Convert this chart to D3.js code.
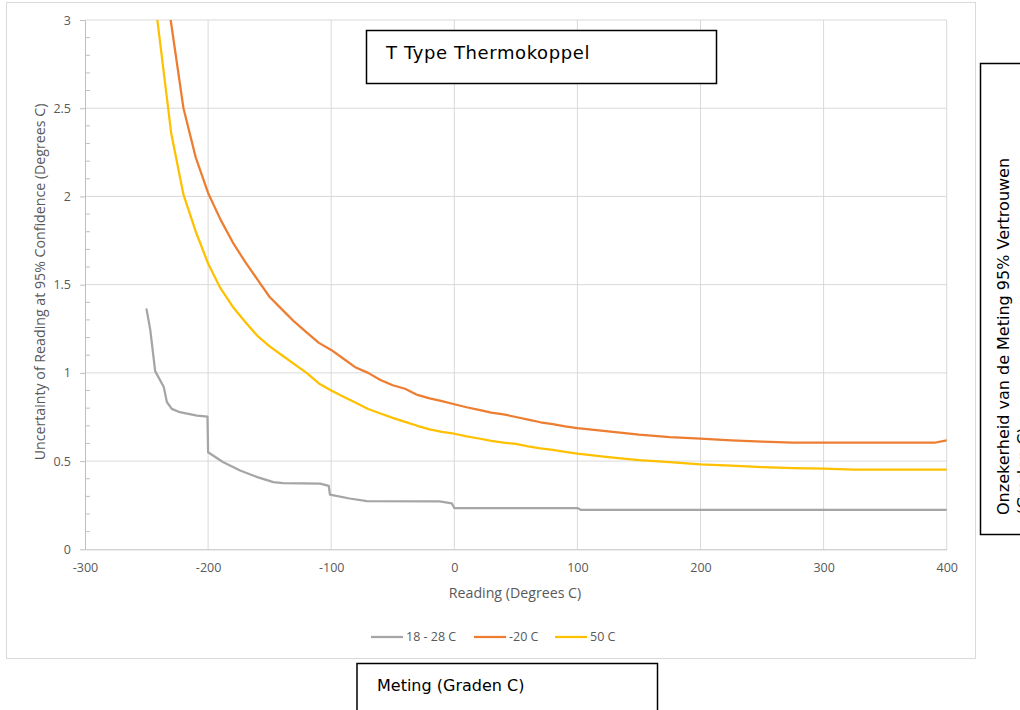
<!DOCTYPE html>
<html>
<head>
<meta charset="utf-8">
<script src="https://cdn.jsdelivr.net/npm/d3@7"></script>
<style>
body { margin: 0; background: #fff; }
.axis text { font-family: 'Open Sans', sans-serif; font-size: 12.5px; fill: #595959; }
.axis line, .axis path { stroke: #bfbfbf; }
.axis-title { font-family: 'Open Sans', sans-serif; font-size: 14.2px; fill: #595959; }
.legend-text { font-family: 'Open Sans', sans-serif; font-size: 12.5px; fill: #595959; }
.box-text { font-family: 'DejaVu Sans', Verdana, sans-serif; fill: #000; }
</style>
</head>
<body>
<div id="chart"></div>
<script>
// data
var readings = [-250, -240, -230, -220, -210, -200, -190, -180, -170, -160, -150, -140, -130, -120, -110,
    -100, -90, -80, -70, -60, -50, -40, -30, -20, -10, 0, 10, 20, 30, 40, 50, 60, 70, 80, 90, 100,
    125, 150, 175, 200, 225, 250, 275, 300, 325, 350, 375, 390, 400];

var minus20 = [null, 3.55, 2.98, 2.50, 2.22, 2.02, 1.87, 1.74, 1.63, 1.53, 1.43, 1.36, 1.29, 1.23, 1.17,
    1.13, 1.08, 1.03, 1.0, 0.96, 0.93, 0.91, 0.875, 0.855, 0.84, 0.822, 0.805, 0.79, 0.775, 0.765, 0.75,
    0.735, 0.72, 0.71, 0.697, 0.687, 0.668, 0.65, 0.636, 0.627, 0.617, 0.61, 0.604, 0.604, 0.604, 0.604,
    0.604, 0.604, 0.617];

var plus50 = [3.5, 2.93, 2.36, 2.01, 1.80, 1.62, 1.48, 1.375, 1.29, 1.21, 1.15, 1.10, 1.05, 1.0, 0.94,
    0.90, 0.865, 0.83, 0.795, 0.77, 0.745, 0.722, 0.70, 0.68, 0.665, 0.655, 0.64, 0.628, 0.615, 0.605,
    0.597, 0.583, 0.572, 0.563, 0.552, 0.542, 0.522, 0.505, 0.494, 0.482, 0.474, 0.466, 0.46, 0.457,
    0.451, 0.451, 0.451, 0.451, 0.451];

var roomReadings = [-250, -247, -243, -236, -233.5, -229.5, -223, -209, -200.5, -200, -188, -174, -160,
    -147, -139, -109, -102, -101, -85, -71, -12, -2, 0, 100, 103, 400];
var roomValues = [1.36, 1.245, 1.01, 0.92, 0.835, 0.796, 0.777, 0.758, 0.752, 0.55, 0.495, 0.447, 0.409,
    0.381, 0.375, 0.372, 0.36, 0.31, 0.288, 0.273, 0.272, 0.26, 0.234, 0.234, 0.223, 0.223];

var seriesNames = ['18 - 28 C', '-20 C', '50 C'];
var seriesColors = ['#a5a5a5', '#ed7d31', '#ffc000'];

var xTicks = [-300, -200, -100, 0, 100, 200, 300, 400];
var yTicks = [0, 0.5, 1, 1.5, 2, 2.5, 3];
var yMinor = [0.1, 0.2, 0.3, 0.4, 0.6, 0.7, 0.8, 0.9, 1.1, 1.2, 1.3, 1.4, 1.6, 1.7, 1.8, 1.9,
    2.1, 2.2, 2.3, 2.4, 2.6, 2.7, 2.8, 2.9];

var width = 1020,
    height = 710;

var svg = d3.select('#chart')
    .append('svg')
    .attr('width', width)
    .attr('height', height);

// chart area
svg.append('rect')
    .attr('x', 6.5)
    .attr('y', 2.5)
    .attr('width', 969)
    .attr('height', 656)
    .attr('fill', '#fff')
    .attr('stroke', '#d9d9d9');

var x = d3.scaleLinear().domain([-300, 400]).range([85, 946.7]);
var y = d3.scaleLinear().domain([0, 3]).range([549.3, 20]);

svg.append('clipPath')
    .attr('id', 'plot-clip')
    .append('rect')
    .attr('x', x(-300))
    .attr('y', y(3))
    .attr('width', x(400) - x(-300))
    .attr('height', y(0) - y(3));

// gridlines
svg.selectAll('.vgrid')
    .data(xTicks.slice(1))
    .enter()
    .append('line')
    .attr('x1', d => x(d))
    .attr('x2', d => x(d))
    .attr('y1', y(0))
    .attr('y2', y(3))
    .attr('stroke', '#d9d9d9');

svg.selectAll('.hgrid')
    .data(yTicks.slice(1))
    .enter()
    .append('line')
    .attr('x1', x(-300))
    .attr('x2', x(400))
    .attr('y1', d => y(d))
    .attr('y2', d => y(d))
    .attr('stroke', '#d9d9d9');

// axes
svg.append('g')
    .attr('class', 'axis')
    .attr('transform', 'translate(0,' + y(0) + ')')
    .call(d3.axisBottom(x).tickValues(xTicks).tickSize(0).tickPadding(14).tickFormat(d => d))
    .select('.domain').attr('stroke', '#bfbfbf');

svg.append('g')
    .attr('class', 'axis')
    .attr('transform', 'translate(' + x(-300) + ',0)')
    .call(d3.axisLeft(y).tickValues(yTicks).tickSize(5).tickSizeOuter(0).tickPadding(9).tickFormat(d => d));

svg.selectAll('.minor')
    .data(yMinor)
    .enter()
    .append('line')
    .attr('x1', x(-300))
    .attr('x2', x(-300) + 5)
    .attr('y1', d => y(d))
    .attr('y2', d => y(d))
    .attr('stroke', '#bfbfbf');

// lines
var line = d3.line()
    .defined(d => d[1] != null)
    .x(d => x(d[0]))
    .y(d => y(d[1]));

var series = [
    roomReadings.map((r, i) => [r, roomValues[i]]),
    readings.map((r, i) => [r, minus20[i]]),
    readings.map((r, i) => [r, plus50[i]])
];

svg.append('g')
    .attr('clip-path', 'url(#plot-clip)')
    .selectAll('path')
    .data(series)
    .enter()
    .append('path')
    .attr('d', line)
    .attr('fill', 'none')
    .attr('stroke', (d, i) => seriesColors[i])
    .attr('stroke-width', 2.25)
    .attr('stroke-linejoin', 'round')
    .attr('stroke-linecap', 'round');

// axis titles
svg.append('text')
    .attr('class', 'axis-title')
    .attr('text-anchor', 'middle')
    .attr('transform', 'translate(45,282) rotate(-90)')
    .text('Uncertainty of Reading at 95% Confidence (Degrees C)');

svg.append('text')
    .attr('class', 'axis-title')
    .attr('text-anchor', 'middle')
    .attr('x', 515)
    .attr('y', 598)
    .text('Reading (Degrees C)');

// legend
var legendX = [371, 474, 555];
var legend = svg.selectAll('.legend')
    .data(seriesNames)
    .enter()
    .append('g')
    .attr('transform', (d, i) => 'translate(' + legendX[i] + ',637)');

legend.append('line')
    .attr('x1', 0)
    .attr('x2', 32)
    .attr('stroke', (d, i) => seriesColors[i])
    .attr('stroke-width', 2.25);

legend.append('text')
    .attr('class', 'legend-text')
    .attr('x', 35)
    .attr('dy', '0.35em')
    .text(d => d);

// text boxes pasted over the chart
svg.append('rect')
    .attr('x', 366.5)
    .attr('y', 30.5)
    .attr('width', 350)
    .attr('height', 53)
    .attr('fill', '#fff')
    .attr('stroke', '#000')
    .attr('stroke-width', 1.5);

svg.append('text')
    .attr('class', 'box-text')
    .attr('x', 386)
    .attr('y', 59)
    .style('font-size', '18px')
    .style('letter-spacing', '0.6px')
    .text('T Type Thermokoppel');

svg.append('rect')
    .attr('x', 357)
    .attr('y', 663.5)
    .attr('width', 300.5)
    .attr('height', 60)
    .attr('fill', '#fff')
    .attr('stroke', '#000')
    .attr('stroke-width', 1.5);

svg.append('text')
    .attr('class', 'box-text')
    .attr('x', 377)
    .attr('y', 691)
    .style('font-size', '16px')
    .text('Meting (Graden C)');

svg.append('rect')
    .attr('x', 980.5)
    .attr('y', 63.5)
    .attr('width', 60)
    .attr('height', 471)
    .attr('fill', '#fff')
    .attr('stroke', '#000')
    .attr('stroke-width', 1.5);

var sideText = svg.append('text')
    .attr('class', 'box-text')
    .attr('transform', 'translate(1009,515) rotate(-90)')
    .style('font-size', '16px');

sideText.append('tspan')
    .attr('x', 0)
    .attr('y', 0)
    .text('Onzekerheid van de Meting 95% Vertrouwen');

sideText.append('tspan')
    .attr('x', 0)
    .attr('y', 20)
    .text('(Graden C)');
</script>
</body>
</html>
